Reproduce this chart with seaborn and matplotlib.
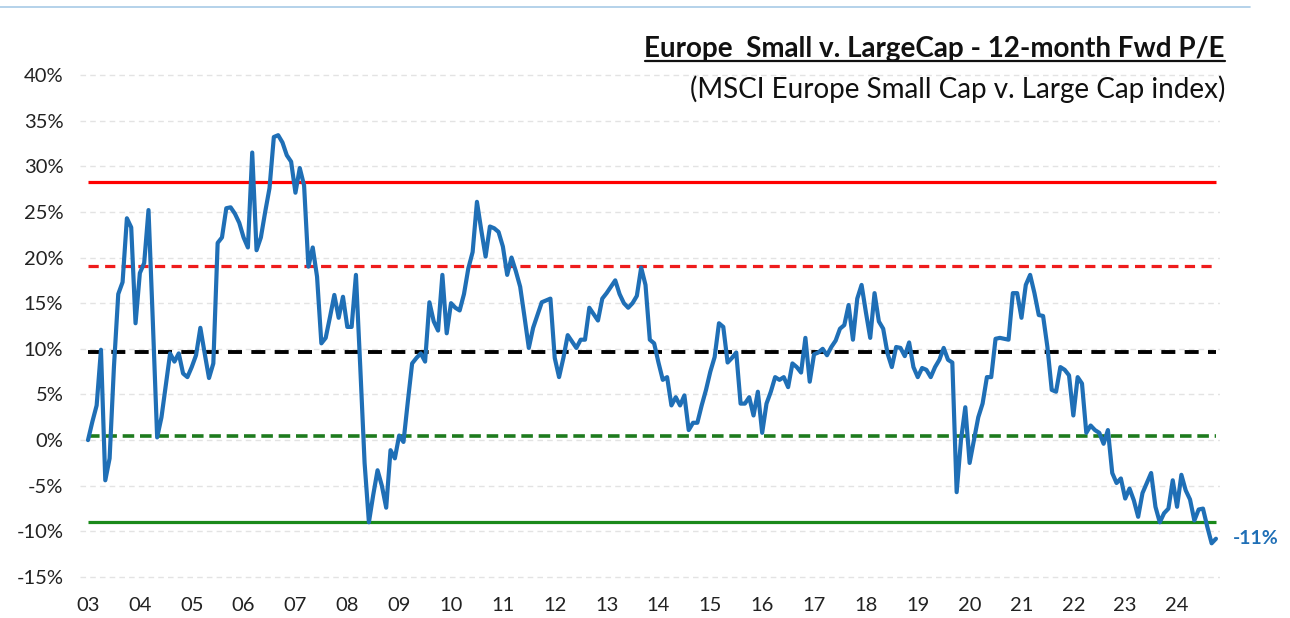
import numpy as np
import pandas as pd
import matplotlib
matplotlib.use("Agg")
import matplotlib.pyplot as plt
import seaborn as sns
from matplotlib.lines import Line2D

# ---------------- data ----------------
start_year = 2003  # monthly series, first point = Jan 2003
rel_pe = [
    0.0, 2.0, 3.8, 9.9, -4.4, -2.0, 8.0, 16.0, 17.3, 24.3, 23.3, 12.8,      # 2003
    18.3, 19.4, 25.2, 13.0, 0.3, 2.5, 6.0, 9.5, 8.6, 9.5, 7.3, 6.9,        # 2004
    8.0, 9.3, 12.3, 9.5, 6.8, 8.4, 21.6, 22.2, 25.4, 25.5, 24.8, 23.8,     # 2005
    22.2, 21.1, 31.5, 20.8, 22.2, 25.0, 27.6, 33.2, 33.4, 32.6, 31.2, 30.5,  # 2006
    27.1, 29.8, 27.9, 19.0, 21.1, 17.9, 10.6, 11.2, 13.5, 15.9, 13.4, 15.7,  # 2007
    12.4, 12.4, 18.1, 8.0, -2.5, -9.0, -6.0, -3.3, -5.0, -7.4, -1.1, -2.0,   # 2008
    0.5, -0.2, 4.2, 8.4, 9.0, 9.5, 8.6, 15.1, 13.0, 12.0, 18.1, 11.7,      # 2009
    15.0, 14.5, 14.2, 16.0, 18.8, 20.6, 26.1, 23.0, 20.1, 23.4, 23.2, 22.8,  # 2010
    21.2, 18.1, 20.0, 18.5, 16.8, 13.5, 10.1, 12.3, 13.7, 15.1, 15.3, 15.5,  # 2011
    9.0, 6.9, 9.0, 11.5, 10.8, 10.1, 11.0, 11.0, 14.5, 13.8, 13.1, 15.5,   # 2012
    16.1, 16.8, 17.5, 16.0, 15.0, 14.5, 15.0, 15.8, 18.9, 17.0, 11.0, 10.6,  # 2013
    8.5, 6.6, 6.9, 3.8, 4.7, 3.8, 4.9, 1.1, 1.9, 1.9, 3.8, 5.5,            # 2014
    7.5, 9.1, 12.8, 12.4, 8.5, 9.0, 9.6, 4.0, 4.0, 4.7, 2.7, 5.3,          # 2015
    0.8, 4.0, 5.3, 6.9, 6.6, 6.9, 5.8, 8.4, 8.0, 7.4, 11.2, 6.4,           # 2016
    9.4, 9.6, 10.0, 9.3, 10.2, 10.9, 12.2, 12.6, 14.8, 11.0, 15.5, 17.0,   # 2017
    14.0, 11.2, 16.1, 13.0, 12.2, 9.5, 8.0, 10.2, 10.1, 9.2, 10.7, 8.0,    # 2018
    6.9, 7.9, 7.7, 6.9, 8.0, 8.8, 10.1, 8.8, 8.5, -5.7, 0.0, 3.6,          # 2019
    -2.5, 0.0, 2.5, 4.0, 6.9, 6.9, 11.1, 11.2, 11.1, 11.0, 16.1, 16.1,     # 2020
    13.4, 17.0, 18.1, 16.1, 13.7, 13.6, 10.2, 5.5, 5.3, 8.0, 7.7, 7.1,     # 2021
    2.7, 6.9, 6.2, 0.8, 1.6, 1.1, 0.8, -0.4, 1.1, -3.6, -4.7, -4.2,        # 2022
    -6.4, -5.3, -6.6, -8.4, -5.8, -4.7, -3.6, -7.3, -9.0, -8.0, -7.5, -4.4,  # 2023
    -7.3, -3.8, -5.5, -6.5, -8.8, -7.6, -7.5, -9.5, -11.3, -10.8,          # 2024
]
ref_levels = [28.3, 19.1, 9.6, 0.4, -9.0]          # +2sd, +1sd, mean, -1sd, -2sd
ref_colors = ["#ff0000", "#ee1c1c", "#000000", "#1e7b1e", "#1a8a1a"]
ref_styles = ["-", (0, (3.2, 2.0)), (0, (3.6, 2.4)), (0, (3.2, 1.6)), "-"]
ref_widths = [2.3, 2.3, 2.8, 2.6, 2.3]
year_ticks = list(range(2003, 2025))
year_labels = [f"{y % 100:02d}" for y in year_ticks]
y_ticks = list(range(-15, 45, 5))
y_labels = [f"{v}%" for v in y_ticks]
title = "Europe  Small v. LargeCap - 12-month Fwd P/E"
subtitle = "(MSCI Europe Small Cap v. Large Cap index)"

df = pd.DataFrame({"date": start_year + np.arange(len(rel_pe)) / 12.0,
                   "value": rel_pe})

# ---------------- style ----------------
sns.set_style("white")
plt.rcParams["font.family"] = ["Lato", "DejaVu Sans"]

W, H = 1290, 618
fig = plt.figure(figsize=(W / 100, H / 100), dpi=100)
ax = fig.add_axes([80 / W, (H - 582) / H, 1140 / W, 512 / H])

px_per_year = 51.86
x0 = start_year - 8 / px_per_year
ax.set_xlim(x0, x0 + 1140 / px_per_year)
ax.set_ylim(-15.54, 40.54)

ax.set_yticks(y_ticks)
ax.set_yticklabels(y_labels)
ax.set_xticks(year_ticks)
ax.set_xticklabels(year_labels)
ax.yaxis.grid(True, color="#e3e3e3", linestyle=(0, (4, 3)), linewidth=1.0)
ax.xaxis.grid(False)
ax.tick_params(axis="both", length=0, labelsize=14.5, colors="#222222")
ax.tick_params(axis="y", pad=12)
ax.tick_params(axis="x", pad=11)
sns.despine(ax=ax, left=True, bottom=True)

t_first, t_last = df["date"].iloc[0], df["date"].iloc[-1]
for lvl, c, ls, lw in zip(ref_levels, ref_colors, ref_styles, ref_widths):
    ax.hlines(lvl, t_first, t_last, colors=c, linestyles=ls, linewidth=lw, zorder=2)

sns.lineplot(data=df, x="date", y="value", ax=ax, color="#1f6fb6",
             linewidth=3.0, zorder=3)
ax.set_xlabel("")
ax.set_ylabel("")

last_val = df["value"].iloc[-1]
ax.annotate(f"{round(last_val):.0f}%", xy=(t_last, last_val),
            xytext=(12, 0), textcoords="offset points",
            ha="left", va="center", fontsize=14, fontweight="bold",
            color="#1f6fb6", annotation_clip=False)

# titles
t1 = fig.text(1225 / W, 1 - 49 / H, title, ha="right", va="center",
              fontsize=20, fontweight="bold", color="#111111")
fig.text(1225 / W, 1 - 89 / H, subtitle, ha="right", va="center",
         fontsize=20, color="#111111")

fig.canvas.draw()
bb = t1.get_window_extent(fig.canvas.get_renderer())
inv = fig.transFigure.inverted()
(ux0, uy), (ux1, _) = inv.transform([(bb.x0, bb.y0 + 1), (bb.x1, bb.y0 + 1)])
fig.add_artist(Line2D([ux0, ux1], [uy, uy], color="#111111", linewidth=1.6))

# thin light-blue rule at the very top
fig.add_artist(Line2D([0, 1250 / W], [1 - 7 / H, 1 - 7 / H],
                      color="#a8cbe6", linewidth=1.2))

fig.savefig("out.png", dpi=100, facecolor="white")
